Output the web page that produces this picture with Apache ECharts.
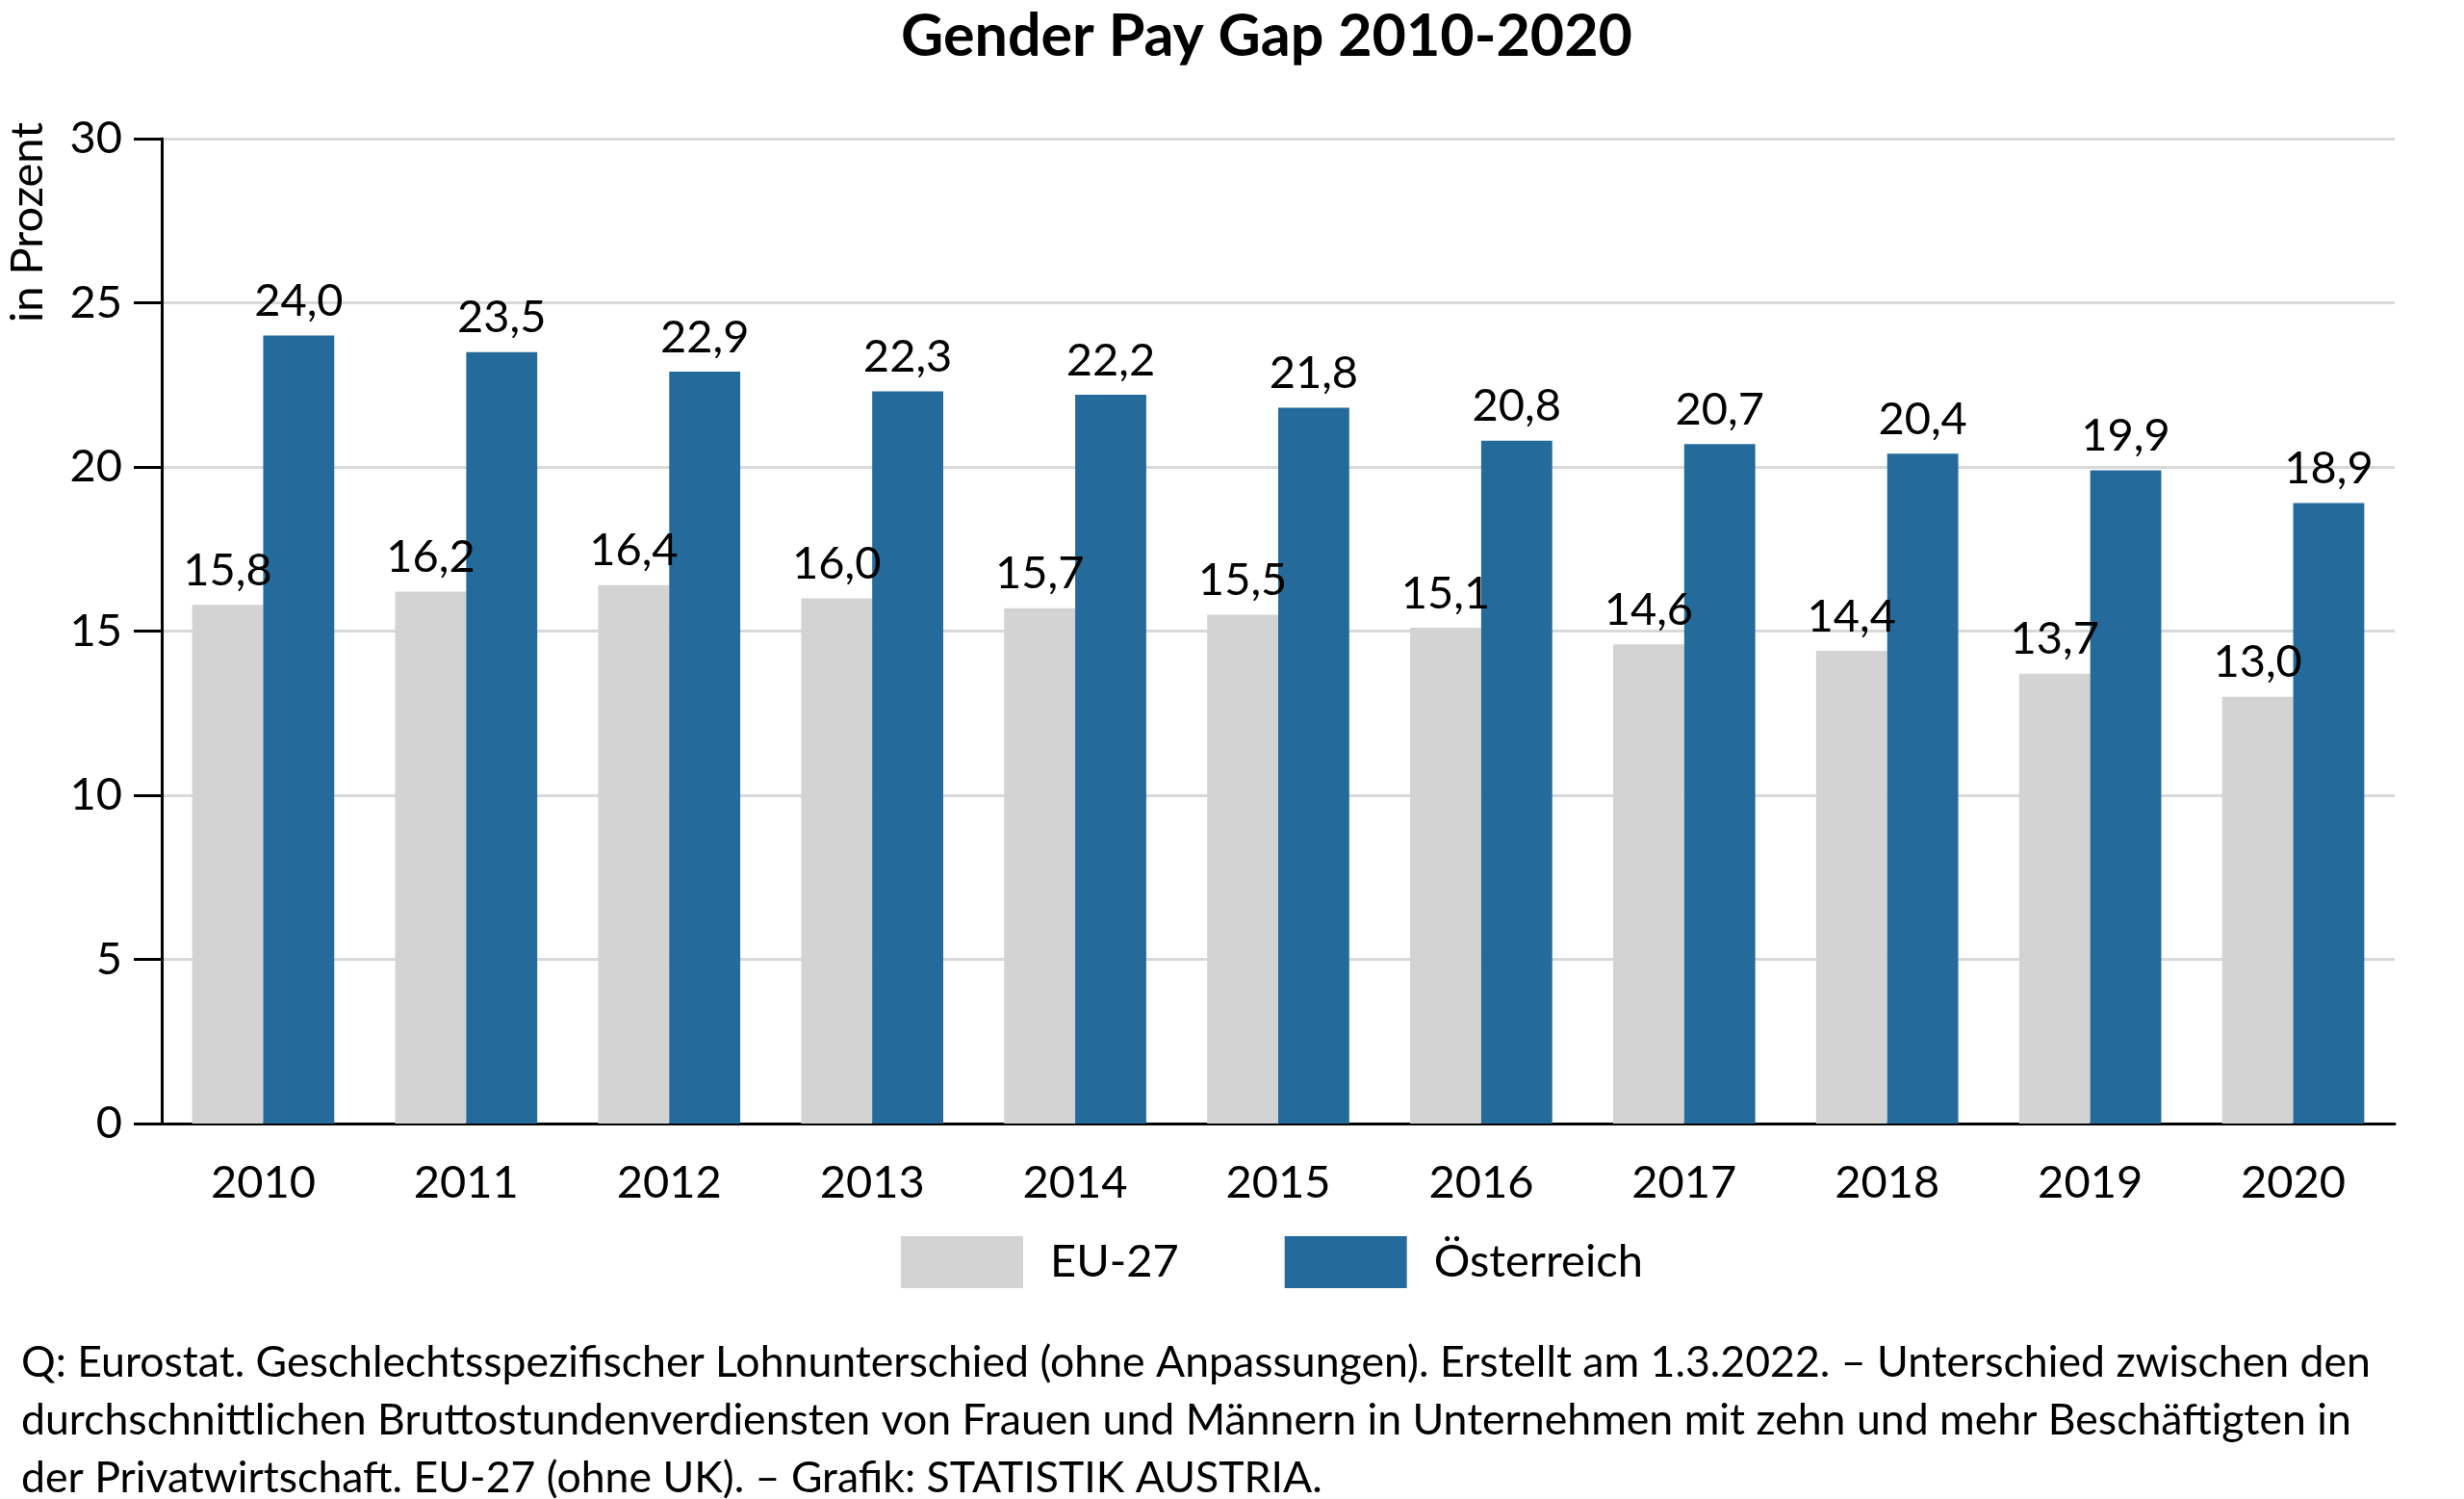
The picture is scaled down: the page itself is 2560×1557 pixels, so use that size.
<!DOCTYPE html>
<html>
<head>
<meta charset="utf-8">
<title>Gender Pay Gap 2010-2020</title>
<script src="https://cdn.jsdelivr.net/npm/echarts@6/dist/echarts.min.js"></script>
<style>
	html, body { margin: 0; padding: 0; background: #fff; }
	#chart { width: 2560px; height: 1557px; }
</style>
</head>
<body>
<div id="chart"></div>
<script>
'use strict';
var years = ['2010','2011','2012','2013','2014','2015','2016','2017','2018','2019','2020'];
var eu27 = [15.8, 16.2, 16.4, 16.0, 15.7, 15.5, 15.1, 14.6, 14.4, 13.7, 13.0];
var austria = [24.0, 23.5, 22.9, 22.3, 22.2, 21.8, 20.8, 20.7, 20.4, 19.9, 18.9];
var seriesNames = ['EU-27', 'Österreich'];
var footnote = [
	'Q: Eurostat. Geschlechtsspezifischer Lohnunterschied (ohne Anpassungen). Erstellt am 1.3.2022. – Unterschied zwischen den',
	'durchschnittlichen Bruttostundenverdiensten von Frauen und Männern in Unternehmen mit zehn und mehr Beschäftigten in',
	'der Privatwirtschaft. EU-27 (ohne UK). – Grafik: STATISTIK AUSTRIA.'
];

var FONT = 'Lato';
var myChart = echarts.init(document.getElementById('chart'));

// Zahlen mit Dezimalkomma
function deNum(v) {
	return v.toFixed(1).replace('.', ',');
}

function barSeries(name, data, color) {
	return {
		name: name,
		type: 'bar',
		data: data,
		barGap: '0%',
		barCategoryGap: '30%',
		itemStyle: { color: color },
		label: {
			show: true,
			position: 'top',
			distance: 12,
			fontFamily: FONT,
			fontSize: 47,
			color: '#000',
			formatter: function (p) { return deNum(p.value); }
		}
	};
}

myChart.setOption({
	animation: false,
	title: {
		text: 'Gender Pay Gap 2010-2020',
		left: 931,
		top: 3,
		textStyle: { fontFamily: FONT, fontWeight: 'bold', fontSize: 61, color: '#000' }
	},
	legend: {
		left: 936,
		top: 1284,
		padding: 0,
		itemWidth: 127,
		itemHeight: 54,
		itemGap: 110,
		icon: 'rect',
		data: seriesNames,
		textStyle: { fontFamily: FONT, fontSize: 47, color: '#000', padding: [0, 0, 0, 23] }
	},
	grid: { left: 168, right: 72, top: 144, bottom: 390 },
	xAxis: {
		type: 'category',
		data: years,
		axisTick: { show: false },
		axisLine: { lineStyle: { color: '#000', width: 3 } },
		axisLabel: { fontFamily: FONT, fontSize: 47, color: '#000', margin: 38 }
	},
	yAxis: {
		type: 'value',
		min: 0,
		max: 30,
		interval: 5,
		axisLine: { show: true, lineStyle: { color: '#000', width: 3 } },
		axisTick: { show: true, length: 29, lineStyle: { color: '#000', width: 3 } },
		splitLine: { lineStyle: { color: '#D9D9D9', width: 3 } },
		axisLabel: { fontFamily: FONT, fontSize: 47, color: '#000', margin: 41 }
	},
	series: [
		barSeries(seriesNames[0], eu27, '#D3D3D3'),
		barSeries(seriesNames[1], austria, '#246B9B')
	],
	graphic: [
		{
			type: 'text',
			x: 29,
			y: 231,
			rotation: Math.PI / 2,
			style: {
				text: 'in Prozent',
				align: 'center',
				verticalAlign: 'middle',
				fontFamily: FONT,
				fontSize: 47,
				fill: '#000'
			}
		},
		{
			type: 'text',
			left: 22,
			top: 1386,
			style: {
				text: footnote.join('\n'),
				fontFamily: FONT,
				fontSize: 44.6,
				lineHeight: 60,
				fill: '#000'
			}
		}
	]
});
</script>
</body>
</html>
